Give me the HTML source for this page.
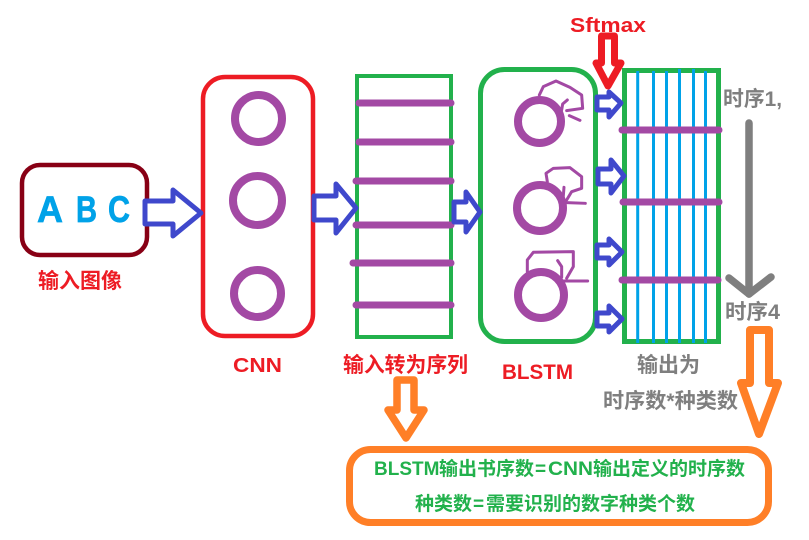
<!DOCTYPE html>
<html><head><meta charset="utf-8"><style>
html,body{margin:0;padding:0;background:#fff}
svg{display:block}
text{font-family:"Liberation Sans","Noto Sans CJK SC",sans-serif;font-weight:700}
</style></head><body>
<svg width="809" height="540" viewBox="0 0 809 540" xmlns="http://www.w3.org/2000/svg">
<rect width="809" height="540" fill="#fff"/>
<!-- input box -->
<rect x="22" y="165" width="125" height="90" rx="18" fill="#fff" stroke="#880015" stroke-width="4.5"/>
<g fill="#00a2e8" stroke="#00a2e8" stroke-width="0.7" font-size="37">
<text x="37" y="222" textLength="26" lengthAdjust="spacingAndGlyphs">A</text>
<text x="76" y="222" textLength="21" lengthAdjust="spacingAndGlyphs">B</text>
<text x="108" y="222" textLength="22" lengthAdjust="spacingAndGlyphs">C</text>
</g>
<!-- CNN -->
<rect x="203" y="77" width="110" height="259" rx="22" fill="#fff" stroke="#ed1c24" stroke-width="4.5"/>
<g fill="none" stroke="#a349a4" stroke-width="8">
<circle cx="258.5" cy="118.5" r="23.5"/><circle cx="257.5" cy="200.5" r="24.5"/><circle cx="257.5" cy="293.5" r="23.5"/>
</g>
<!-- sequence box -->
<rect x="357" y="76" width="94" height="261" fill="#fff" stroke="#22b14c" stroke-width="4"/>
<g stroke="#a349a4" stroke-width="7" stroke-linecap="round">
<line x1="359" y1="103" x2="451" y2="103"/><line x1="359" y1="142" x2="451" y2="142"/>
<line x1="356" y1="181" x2="451" y2="181"/><line x1="356" y1="225" x2="451" y2="225"/>
<line x1="353" y1="263" x2="451" y2="263"/><line x1="356" y1="305" x2="451" y2="305"/>
</g>
<!-- BLSTM -->
<rect x="480.5" y="69.5" width="115" height="272" rx="24" fill="#fff" stroke="#22b14c" stroke-width="5"/>
<g fill="none" stroke="#a349a4" stroke-width="8">
<circle cx="539.5" cy="121.5" r="21.5"/><circle cx="540" cy="208" r="23"/><circle cx="541" cy="295" r="23"/>
</g>
<g transform="translate(470,0) scale(0.3333)" fill="none" stroke="#a349a4" stroke-width="9" stroke-linejoin="round" stroke-linecap="round">
<polyline points="208,285 220,260 258,243 300,262 335,285 338,325 290,332"/>
<polyline points="292,300 278,312 275,330"/><polyline points="298,347 330,361"/>
<polyline points="232,545 228,520 250,505 300,503 335,530 335,565 305,575 290,600"/>
<polyline points="282,562 279,600"/><polyline points="290,608 346,610"/>
<polyline points="172,815 172,780 190,757 310,755 310,800 290,835"/>
<polyline points="263,782 275,800 275,832"/><polyline points="275,843 353,843"/>
</g>
<!-- output grid -->
<rect x="624.5" y="70.5" width="94" height="271" fill="#fff" stroke="#22b14c" stroke-width="5"/>
<g stroke="#00a2e8" stroke-width="3">
<line x1="637.7" y1="71" x2="637.7" y2="343"/><line x1="653.5" y1="71" x2="653.5" y2="343"/>
<line x1="666.5" y1="71" x2="666.5" y2="343"/><line x1="679.5" y1="69" x2="679.5" y2="343"/>
<line x1="693.5" y1="69" x2="693.5" y2="343"/><line x1="705.5" y1="71" x2="705.5" y2="343"/>
</g>
<g stroke="#a349a4" stroke-width="7" stroke-linecap="round">
<line x1="622" y1="130" x2="719" y2="130"/><line x1="623" y1="202" x2="719" y2="202"/><line x1="622" y1="280" x2="718" y2="280"/>
</g>
<!-- blue arrows -->
<g fill="#fff" stroke="#3f48cc" stroke-width="5" stroke-linejoin="round">
<polygon points="145,201 173,201 173,190 201,213 173,236 173,224 145,224"/>
<polygon points="314,196 336,196 336,184 356,208 336,233 336,220 314,220"/>
<polygon points="454,202 466,202 466,192 480,212 466,232 466,222 454,222"/>
<polygon points="597,97 609,97 609,92 621,103 609,117 609,110 597,110"/>
<polygon points="598,169 611,169 611,160 624,176 611,193 611,184 598,184"/>
<polygon points="597,245 609,245 609,239 622,252 609,265 609,258 597,258"/>
<polygon points="597,313 609,313 609,306 622,319 609,332 609,326 597,326"/>
</g>
<!-- labels under arrows -->
<text x="570" y="32" font-size="20" fill="#ed1c24" textLength="76" lengthAdjust="spacingAndGlyphs">Sftmax</text>
<!-- red arrow -->
<polygon points="601.5,36 614.5,36 614.5,63 621,63 608,86 596,63 601.5,63" fill="#fff" stroke="#ed1c24" stroke-width="7" stroke-linejoin="round"/>
<!-- gray arrow -->
<g fill="none" stroke="#7f7f7f" stroke-width="7.5" stroke-linecap="round" stroke-linejoin="round">
<line x1="749" y1="123" x2="749" y2="294"/>
<polyline points="729,278 749,294 771,277"/>
</g>
<!-- orange -->
<rect x="349.5" y="449.5" width="419" height="73" rx="21" fill="#fff" stroke="#ff7f27" stroke-width="7"/>
<polygon points="397,380 414,380 414,410 424,410 406,438 388,410 397,410" fill="#fff" stroke="#ff7f27" stroke-width="7.5" stroke-linejoin="round"/>
<polygon points="750,330 769,330 769,383 778,383 759,434 741,383 750,383" fill="#fff" stroke="#ff7f27" stroke-width="8" stroke-linejoin="round"/>
<!-- labels -->
<text x="38" y="288" font-size="21" fill="#ed1c24" textLength="84" lengthAdjust="spacingAndGlyphs">输入图像</text>
<text x="233" y="372" font-size="20" fill="#ed1c24" textLength="49" lengthAdjust="spacingAndGlyphs">CNN</text>
<text x="343" y="372" font-size="21" fill="#ed1c24" textLength="125" lengthAdjust="spacingAndGlyphs">输入转为序列</text>
<text x="502" y="379" font-size="21" fill="#ed1c24" textLength="71" lengthAdjust="spacingAndGlyphs">BLSTM</text>
<text x="637" y="372" font-size="21" fill="#7f7f7f" textLength="63" lengthAdjust="spacingAndGlyphs">输出为</text>
<text x="603" y="408" font-size="21" fill="#7f7f7f" textLength="135" lengthAdjust="spacingAndGlyphs">时序数*种类数</text>
<text x="723" y="106" font-size="21" fill="#7f7f7f" textLength="59" lengthAdjust="spacingAndGlyphs">时序1,</text>
<text x="725" y="319" font-size="21" fill="#7f7f7f" textLength="55" lengthAdjust="spacingAndGlyphs">时序4</text>
<text y="475" font-size="19" fill="#22b14c"><tspan x="374">BLSTM</tspan><tspan x="439">输出书序数</tspan><tspan x="535">=</tspan></text>
<text x="548" y="475" font-size="19" fill="#22b14c" textLength="45" lengthAdjust="spacingAndGlyphs">CNN</text>
<text x="593" y="475" font-size="19" fill="#22b14c">输出定义的时序数</text>
<text y="510" font-size="19" fill="#22b14c"><tspan x="415">种类数</tspan><tspan x="473">=</tspan><tspan x="486">需要识别的数字种类个数</tspan></text>
</svg>
</body></html>
